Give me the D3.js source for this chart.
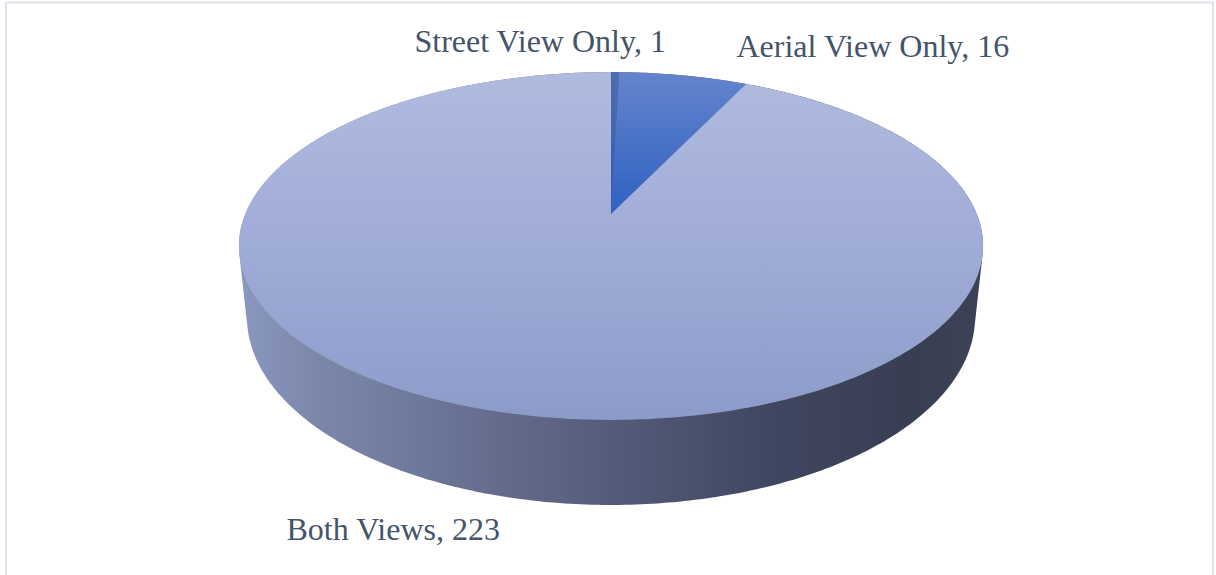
<!DOCTYPE html>
<html><head><meta charset="utf-8">
<script src="https://cdn.jsdelivr.net/npm/d3@7"></script>
<style>html,body{margin:0;padding:0;background:#fff;overflow:hidden}svg{display:block}
text{font-family:"Liberation Serif",serif;fill:#44546a;font-size:32px}</style>
</head><body><svg id="c" width="1216" height="575"></svg>
<script>
const categories = ["Street View Only", "Aerial View Only", "Both Views"];
const values = [1, 16, 223];

const W = 1216, H = 575;
const svg = d3.select("#c");
const discTop = {cx: 611, cy: 214, a: 365.7, b: 168, k: 0.184};
const discBot = {cx: 611, cy: 282.4, a: 357.8, b: 181.6, k: 0.184};
const proj = (g, t) => {
  const u = Math.sin(t), v = Math.cos(t), w = 1 + g.k * v;
  return [g.cx + g.a * u / w, g.cy - g.b * v / w];
};
const arcs = d3.pie().sort(null)(values);
const line = d3.line();
const arcPts = (g, t0, t1) => {
  const n = Math.max(8, Math.ceil((t1 - t0) * 80));
  return d3.range(n + 1).map(i => proj(g, t0 + (t1 - t0) * i / n));
};

const defs = svg.append("defs");
const grad = (id, attrs, stops) => {
  const g = defs.append("linearGradient").attr("id", id).attr("gradientUnits", "userSpaceOnUse");
  Object.entries(attrs).forEach(([k, v]) => g.attr(k, v));
  stops.forEach(([o, c]) => g.append("stop").attr("offset", o).attr("stop-color", c));
};
grad("gTop", {x1: 0, x2: 0, y1: 72, y2: 420}, [[0, "#afbbde"], [0.5, "#a0acd8"], [1, "#8d9bc8"]]);
grad("gBlue", {x1: 0, x2: 0, y1: 72, y2: 214}, [[0, "#6484cc"], [1, "#2f62c2"]]);
grad("gStreet", {x1: 0, x2: 0, y1: 72, y2: 214}, [[0, "#4f6cae"], [1, "#2f5cb4"]]);
grad("gSide", {x1: 240, x2: 982, y1: 0, y2: 0}, [[0, "#8a97c0"], [0.1, "#7c88aa"], [0.25, "#6d7799"], [0.45, "#5a6180"], [0.72, "#3f4660"], [0.9, "#383e52"], [1, "#3d4356"]]);

// Outer wall: silhouette of the top and lower discs together
const hull = d3.polygonHull(arcPts(discTop, 0, Math.PI * 2).concat(arcPts(discBot, 0, Math.PI * 2)));
svg.append("path").attr("d", line(hull) + "Z").attr("fill", "url(#gSide)");

// Top disc slices
const fills = ["url(#gStreet)", "url(#gBlue)", "url(#gTop)"];
svg.selectAll("path.slice").data(arcs).join("path").attr("class", "slice")
  .attr("d", d => line([[discTop.cx, discTop.cy]].concat(arcPts(discTop, d.startAngle, d.endAngle))) + "Z")
  .attr("fill", (d, i) => fills[i]);

// Frame
svg.append("path").attr("d", `M6 ${H}V2.5H1213V${H}`).attr("fill", "none")
  .attr("stroke", "#dfe4ec").attr("stroke-width", 2);

// Labels
const labelPos = [[414.5, 52], [736.5, 57], [286.5, 540]];
svg.selectAll("text.lab").data(arcs).join("text").attr("class", "lab")
  .attr("x", (d, i) => labelPos[i][0]).attr("y", (d, i) => labelPos[i][1])
  .text((d, i) => `${categories[i]}, ${d.value}`);
</script></body></html>
